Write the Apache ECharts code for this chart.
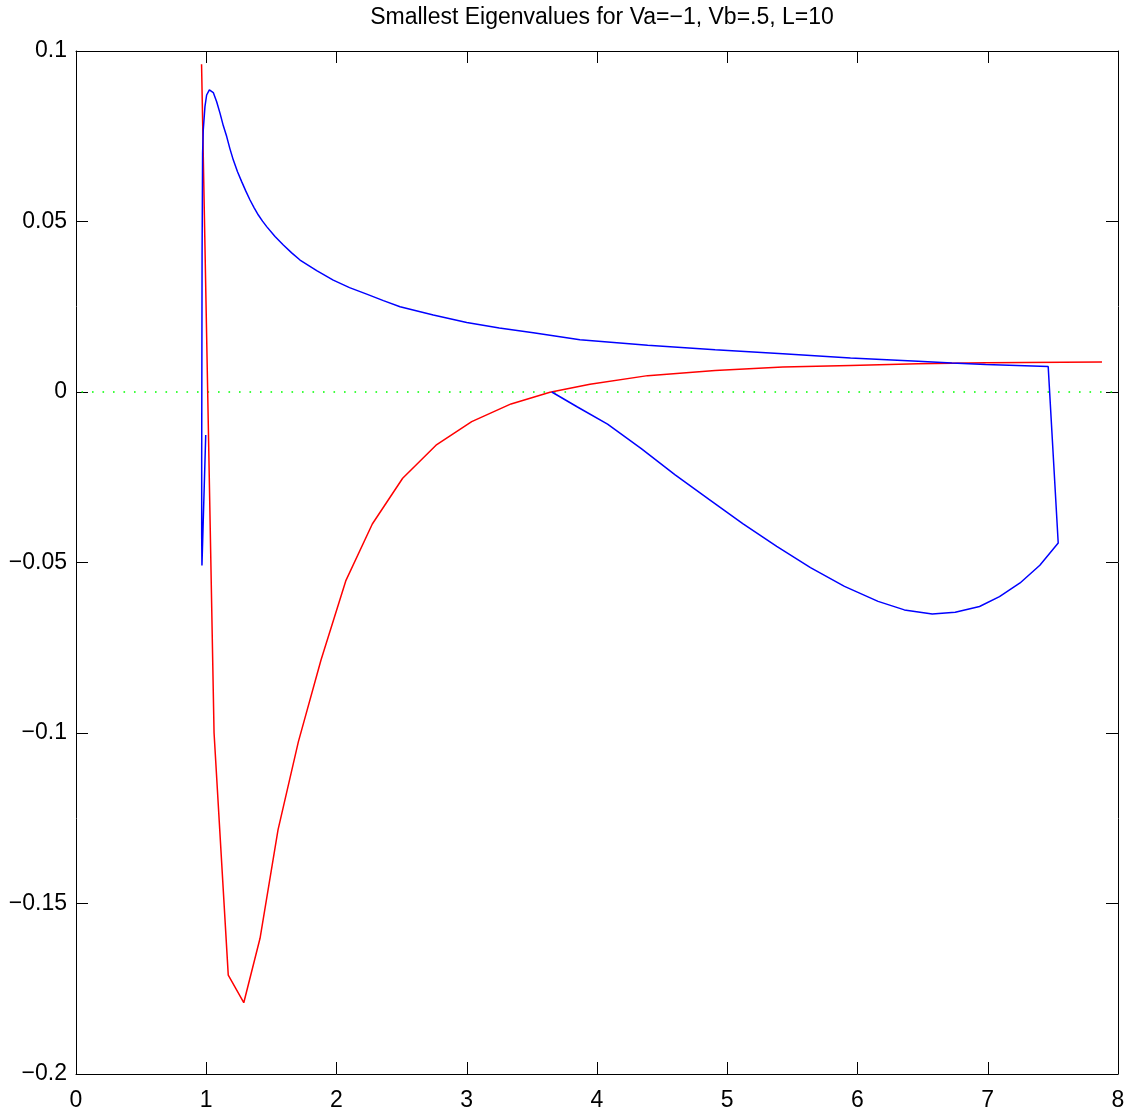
<!DOCTYPE html>
<html>
<head>
<meta charset="utf-8">
<script src="https://cdn.jsdelivr.net/npm/echarts@6/dist/echarts.min.js"></script>
<style>
html,body{margin:0;padding:0;background:#fff;}
#chart{width:1131px;height:1114px;}
</style>
</head>
<body>
<div id="chart"></div>
<script>
const titleText = 'Smallest Eigenvalues for Va=\u22121, Vb=.5, L=10';

const xTicks = [0, 1, 2, 3, 4, 5, 6, 7, 8];
const yTicks = [-0.2, -0.15, -0.1, -0.05, 0, 0.05, 0.1];

const redX = [0.964, 1.060, 1.169, 1.288, 1.413, 1.551, 1.707, 1.881, 2.071, 2.275, 2.508, 2.764, 3.038, 3.340, 3.639, 3.946, 4.389, 4.907, 5.427, 5.946, 6.465, 6.984, 7.877];
const redY = [0.0961, -0.1000, -0.1710, -0.1791, -0.1602, -0.1284, -0.1026, -0.0786, -0.0554, -0.0387, -0.0253, -0.0156, -0.0087, -0.0035, -0.0001, 0.0023, 0.0048, 0.0063, 0.0073, 0.0078, 0.0083, 0.0086, 0.0088];

const blueX = [0.996, 0.967, 0.965, 0.965, 0.966, 0.968, 0.972, 0.977, 0.990, 1.003, 1.024, 1.054, 1.080, 1.106, 1.130, 1.157, 1.182, 1.208, 1.240, 1.272, 1.304, 1.336, 1.368, 1.400, 1.432, 1.464, 1.528, 1.592, 1.656, 1.720, 1.848, 1.975, 2.100, 2.232, 2.360, 2.488, 2.743, 3.000, 3.250, 3.511, 3.869, 4.389, 4.907, 5.427, 5.946, 6.465, 6.725, 6.984, 7.464, 7.541, 7.400, 7.248, 7.090, 6.937, 6.750, 6.574, 6.360, 6.158, 5.900, 5.639, 5.380, 5.119, 4.860, 4.600, 4.340, 4.081, 3.850, 3.653];
const blueY = [-0.0126, -0.0509, -0.0420, -0.0200, 0.0000, 0.0400, 0.0700, 0.0768, 0.0837, 0.0871, 0.0886, 0.0878, 0.0851, 0.0817, 0.0782, 0.0749, 0.0713, 0.0680, 0.0646, 0.0617, 0.0589, 0.0563, 0.0540, 0.0519, 0.0501, 0.0485, 0.0456, 0.0431, 0.0408, 0.0387, 0.0356, 0.0328, 0.0306, 0.0287, 0.0268, 0.0250, 0.0226, 0.0204, 0.0188, 0.0174, 0.0153, 0.0137, 0.0124, 0.0112, 0.0100, 0.0090, 0.0085, 0.0081, 0.0075, -0.0443, -0.0508, -0.0560, -0.0600, -0.0629, -0.0646, -0.0651, -0.0639, -0.0614, -0.0570, -0.0515, -0.0453, -0.0386, -0.0315, -0.0243, -0.0166, -0.0094, -0.0044, 0.0000];

const zeroX = [0, 8];
const zeroY = [0, 0];

const zip = (xs, ys) => xs.map((x, i) => [x, ys[i]]);

const FONT = '"Liberation Sans", Arial, Helvetica, sans-serif';
const FS = 23;

function fmtY(v) {
  const r = Math.round(v * 1000) / 1000;
  return r < 0 ? '\u2212' + String(-r) : String(r);
}

const axisCommon = {
  type: 'value',
  axisLine: { show: true, onZero: false, lineStyle: { color: '#000', width: 1 } },
  axisTick: { show: true, inside: true, length: 12, lineStyle: { color: '#000', width: 1 } },
  splitLine: { show: false }
};

const chart = echarts.init(document.getElementById('chart'), null, { renderer: 'canvas' });
chart.setOption({
  animation: false,
  backgroundColor: '#fff',
  title: {
    text: titleText,
    left: 597,
    top: 1,
    textAlign: 'center',
    textStyle: { fontFamily: FONT, fontSize: FS, fontWeight: 'normal', color: '#000' }
  },
  grid: { left: 76, right: 13, top: 51, bottom: 40, containLabel: false, outerBoundsMode: 'none' },
  xAxis: [
    Object.assign({}, axisCommon, {
      position: 'bottom', min: xTicks[0], max: xTicks[xTicks.length - 1], interval: 1,
      axisLabel: { show: true, margin: 15, color: '#000', fontFamily: FONT, fontSize: FS,
        formatter: v => String(v) }
    }),
    Object.assign({}, axisCommon, {
      position: 'top', min: xTicks[0], max: xTicks[xTicks.length - 1], interval: 1,
      axisLabel: { show: false }
    })
  ],
  yAxis: [
    Object.assign({}, axisCommon, {
      position: 'left', min: yTicks[0], max: yTicks[yTicks.length - 1], interval: 0.05,
      axisLabel: { show: true, margin: 9, color: '#000', fontFamily: FONT, fontSize: FS,
        formatter: fmtY }
    }),
    Object.assign({}, axisCommon, {
      position: 'right', min: yTicks[0], max: yTicks[yTicks.length - 1], interval: 0.05,
      axisLabel: { show: false }
    })
  ],
  series: [
    {
      type: 'line', xAxisIndex: 0, yAxisIndex: 0,
      data: zip(zeroX, zeroY), showSymbol: false, silent: true,
      lineStyle: { color: '#00ff00', width: 1.6, type: [1.6, 8.9], dashOffset: 5 }
    },
    {
      type: 'line', xAxisIndex: 0, yAxisIndex: 0,
      data: zip(redX, redY), showSymbol: false, smooth: false,
      lineStyle: { color: '#ff0000', width: 1.5 }
    },
    {
      type: 'line', xAxisIndex: 0, yAxisIndex: 0,
      data: zip(blueX, blueY), showSymbol: false, smooth: false,
      lineStyle: { color: '#0000ff', width: 1.5 }
    }
  ]
});
</script>
</body>
</html>
